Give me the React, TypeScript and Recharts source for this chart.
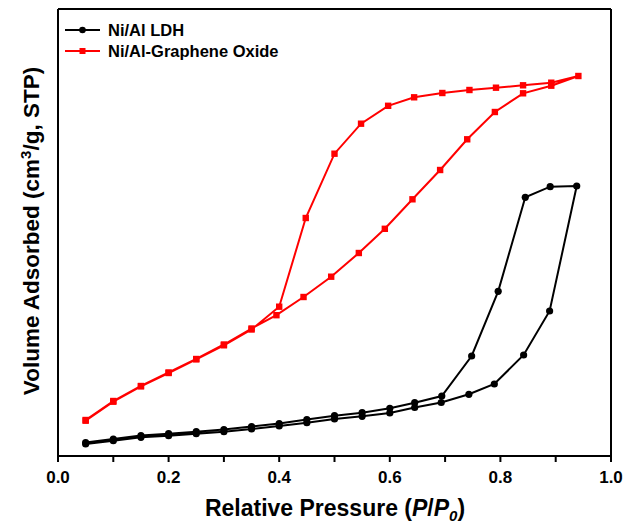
import React from 'react';
import { LineChart, Line, XAxis, YAxis, Legend, Label } from 'recharts';

// Ni/Al LDH — adsorption branch (relative pressure, volume in arbitrary units)
const ldhAdsP = [0.05, 0.10, 0.15, 0.20, 0.25, 0.30, 0.35, 0.40, 0.45, 0.50, 0.55, 0.60, 0.645, 0.693, 0.743, 0.789, 0.842, 0.889, 0.938];
const ldhAdsV = [12, 15.3, 18.7, 20.3, 22.3, 24.3, 27, 30, 33.3, 37, 39.7, 43, 48.5, 53.5, 61.7, 72, 101, 145, 270];
// Ni/Al LDH — desorption branch
const ldhDesP = [0.89, 0.845, 0.796, 0.748, 0.694, 0.645, 0.60, 0.55, 0.50, 0.45, 0.40, 0.35, 0.30, 0.25, 0.20, 0.15, 0.10, 0.05];
const ldhDesV = [269.3, 258.7, 164.7, 100, 60, 53.3, 47.7, 43.3, 40.3, 36.5, 32.5, 29.5, 26.5, 24.3, 22.3, 20.5, 17, 13.5];

// Ni/Al-Graphene Oxide — adsorption branch
const goAdsP = [0.05, 0.10, 0.15, 0.20, 0.25, 0.30, 0.35, 0.40, 0.448, 0.50, 0.548, 0.597, 0.644, 0.695, 0.744, 0.792, 0.841, 0.892, 0.941];
const goAdsV = [35.3, 54.3, 69.7, 83, 96.7, 110.7, 126.5, 149.3, 238, 302.3, 332.3, 350.2, 358.7, 363, 366, 368.3, 370.7, 373.3, 380];
// Ni/Al-Graphene Oxide — desorption branch
const goDesP = [0.892, 0.841, 0.79, 0.74, 0.691, 0.641, 0.591, 0.544, 0.494, 0.444, 0.395, 0.35, 0.30, 0.25, 0.20, 0.15, 0.10, 0.05];
const goDesV = [370.3, 362.7, 344, 316.7, 286, 256.7, 227.2, 203, 179.3, 159, 140.8, 127.5, 111.5, 97, 83.5, 70, 55, 36];

const xTicks = [0, 0.1, 0.2, 0.3, 0.4, 0.5, 0.6, 0.7, 0.8, 0.9, 1.0];
const seriesNames = ['Ni/Al LDH', 'Ni/Al-Graphene Oxide'];
const yDomain = [0, 447];

const zip = (p: number[], v: number[]) => p.map((x, i) => ({ p: x, v: v[i] }));
const ldhLoop = [...zip(ldhAdsP, ldhAdsV), ...zip(ldhDesP, ldhDesV)];
const goLoop = [...zip(goAdsP, goAdsV), ...zip(goDesP, goDesV)];

const FONT = '"Liberation Sans", Arial, sans-serif';

const SquareDot = (props: any) => {
  const { cx, cy, index } = props;
  if (cx == null || cy == null) return <g key={index} />;
  return <rect key={index} x={cx - 3.2} y={cy - 3.2} width={6.4} height={6.4} fill="#ff0000" />;
};

const CircleDot = (props: any) => {
  const { cx, cy, index } = props;
  if (cx == null || cy == null) return <g key={index} />;
  return <circle key={index} cx={cx} cy={cy} r={3.6} fill="#000" />;
};

const renderLegend = () => (
  <svg width={300} height={70} style={{ display: 'block' }}>
    <line x1={65} y1={30} x2={100} y2={30} stroke="#000" strokeWidth={2} />
    <circle cx={82.5} cy={30} r={3.3} fill="#000" />
    <text x={108} y={35.5} fontFamily={FONT} fontWeight="bold" fontSize={16.5} fill="#000">{seriesNames[0]}</text>
    <line x1={65} y1={51} x2={100} y2={51} stroke="#ff0000" strokeWidth={2} />
    <rect x={79.5} y={48} width={6} height={6} fill="#ff0000" />
    <text x={108} y={56.5} fontFamily={FONT} fontWeight="bold" fontSize={16.5} fill="#000">{seriesNames[1]}</text>
  </svg>
);

const XTitle = () => (
  <text x={335} y={516} textAnchor="middle" fontFamily={FONT} fontWeight="bold" fontSize={23} fill="#000">
    Relative Pressure (<tspan fontStyle="italic">P</tspan>/<tspan fontStyle="italic">P</tspan>
    <tspan fontStyle="italic" fontSize={15} dy={5}>0</tspan>
    <tspan dy={-5}>)</tspan>
  </text>
);

const YTitle = () => (
  <text transform="translate(39,231) rotate(-90)" textAnchor="middle" fontFamily={FONT} fontWeight="bold" fontSize={22.5} fill="#000">
    Volume Adsorbed (cm<tspan fontSize={15} dy={-8}>3</tspan>
    <tspan dy={8}>/g, STP)</tspan>
  </text>
);

export default function App() {
  return (
    <div style={{ position: 'absolute', left: 0, top: 0, width: 634, height: 523, background: '#fff' }}>
      <LineChart width={634} height={523} margin={{ top: 8, right: 22, bottom: 0, left: 57 }}>
        <XAxis
          xAxisId="b"
          dataKey="p"
          type="number"
          domain={[0, 1]}
          ticks={xTicks}
          tickFormatter={(v: number) => (Math.round(v * 10) % 2 === 0 ? v.toFixed(1) : '')}
          height={67}
          axisLine={{ stroke: '#000', strokeWidth: 2 }}
          tickLine={{ stroke: '#000', strokeWidth: 2 }}
          tickSize={6}
          tickMargin={9}
          tick={{ fill: '#000', fontFamily: FONT, fontWeight: 'bold', fontSize: 17 }}
          allowDataOverflow
        >
          <Label content={<XTitle />} />
        </XAxis>
        <XAxis
          xAxisId="t"
          orientation="top"
          dataKey="p"
          type="number"
          domain={[0, 1]}
          height={1}
          tick={false}
          tickLine={false}
          axisLine={{ stroke: '#000', strokeWidth: 2 }}
        />
        <YAxis
          yAxisId="l"
          type="number"
          domain={yDomain}
          width={1}
          tick={false}
          tickLine={false}
          axisLine={{ stroke: '#000', strokeWidth: 2 }}
          allowDataOverflow
        >
          <Label content={<YTitle />} />
        </YAxis>
        <YAxis
          yAxisId="r"
          orientation="right"
          type="number"
          domain={yDomain}
          width={1}
          tick={false}
          tickLine={false}
          axisLine={{ stroke: '#000', strokeWidth: 2 }}
        />
        <Legend
          content={renderLegend}
          layout="vertical"
          align="center"
          verticalAlign="middle"
          wrapperStyle={{ left: 0, top: 0, width: 300, height: 70 }}
        />
        <Line
          xAxisId="b"
          yAxisId="l"
          data={ldhLoop}
          dataKey="v"
          name={seriesNames[0]}
          stroke="#000"
          strokeWidth={2}
          dot={CircleDot}
          activeDot={false}
          isAnimationActive={false}
        />
        <Line
          xAxisId="b"
          yAxisId="l"
          data={goLoop}
          dataKey="v"
          name={seriesNames[1]}
          stroke="#ff0000"
          strokeWidth={2}
          dot={SquareDot}
          activeDot={false}
          isAnimationActive={false}
        />
      </LineChart>
    </div>
  );
}
